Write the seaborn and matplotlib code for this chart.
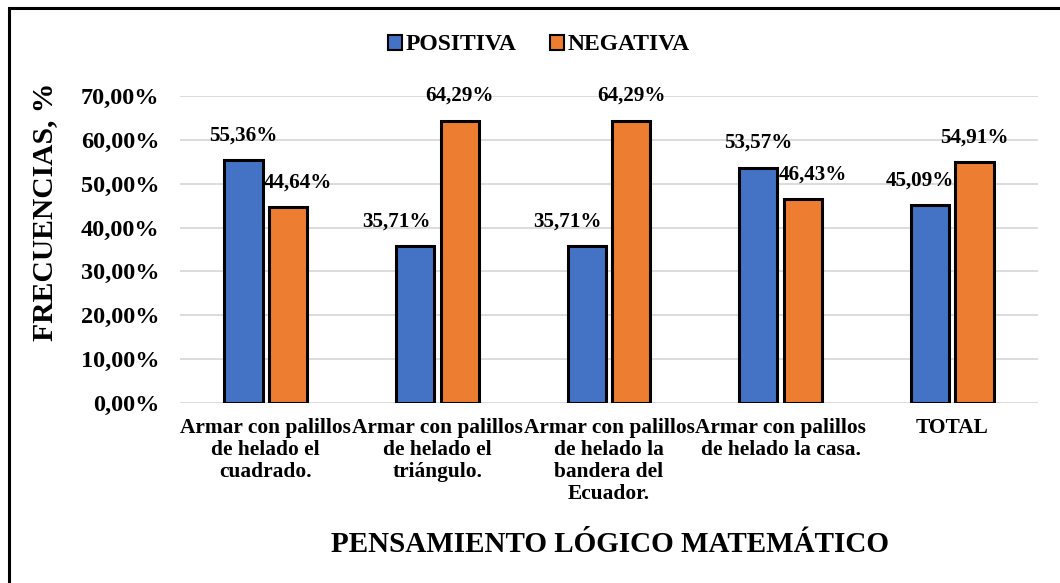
import pandas as pd
import matplotlib.pyplot as plt
import seaborn as sns
from matplotlib.patches import Rectangle
from matplotlib.ticker import FuncFormatter

categories = [
    "Armar con palillos\nde helado el\ncuadrado.",
    "Armar con palillos\nde helado el\ntriángulo.",
    "Armar con palillos\nde helado la\nbandera del\nEcuador.",
    "Armar con palillos\nde helado la casa.",
    "TOTAL",
]
positiva = [55.36, 35.71, 35.71, 53.57, 45.09]
negativa = [44.64, 64.29, 64.29, 46.43, 54.91]
series_names = ["POSITIVA", "NEGATIVA"]
colors = ["#4472C4", "#ED7D31"]

# label nudges (pixels) to mimic the hand-placed labels of the original
label_dx = {"POSITIVA": [0, -19, -19, 0, -10], "NEGATIVA": [10, 0, 0, 10, 0]}

df = pd.DataFrame({
    "cat": categories * 2,
    "serie": [series_names[0]] * 5 + [series_names[1]] * 5,
    "valor": positiva + negativa,
})

sns.set_style("white")
plt.rcParams["font.family"] = ["Liberation Serif", "DejaVu Serif"]
plt.rcParams["font.weight"] = "bold"
plt.rcParams["text.color"] = "black"
plt.rcParams["xtick.color"] = "black"
plt.rcParams["ytick.color"] = "black"

fig = plt.figure(figsize=(10.6, 5.83), dpi=100)
ax = fig.add_axes([180 / 1060, 1 - 403 / 583, (1038 - 180) / 1060, (403 - 96) / 583])

sns.barplot(data=df, x="cat", y="valor", hue="serie", palette=colors,
            saturation=1, width=0.52, gap=0.14, edgecolor="black", linewidth=2.2,
            ax=ax, legend=True, zorder=3)

ax.set_ylim(0, 70)
ax.set_yticks(range(0, 71, 10))
ax.yaxis.set_major_formatter(FuncFormatter(lambda v, p: f"{v:.2f}%".replace(".", ",")))
ax.grid(axis="y", color="#D9D9D9", linewidth=1.3, zorder=0)
for s in ax.spines.values():
    s.set_visible(False)
ax.set_xticks(range(len(categories)))
ax.set_xticklabels(categories, linespacing=1.12, fontweight="bold")
ax.tick_params(axis="y", length=0, pad=15, labelsize=17.5)
ax.tick_params(axis="x", length=0, pad=11, labelsize=15.4)
for t in ax.get_yticklabels():
    t.set_fontweight("bold")
ax.set_xlabel("")
ax.set_ylabel("")

for cont, name in zip(ax.containers, series_names):
    for bar, dx in zip(cont, label_dx[name]):
        h = bar.get_height()
        ax.annotate(f"{h:.2f}%".replace(".", ","),
                    (bar.get_x() + bar.get_width() / 2, h),
                    xytext=(dx, 15), textcoords="offset pixels",
                    ha="center", va="bottom", fontsize=15.2, fontweight="bold")

leg = ax.legend(loc="center", bbox_to_anchor=(539 / 1060, 1 - 45 / 583),
                bbox_transform=fig.transFigure, ncol=2, frameon=False,
                prop={"size": 17, "weight": "bold"}, handlelength=0.6,
                handleheight=0.6, handletextpad=0.15, columnspacing=1.4)
for h in leg.legend_handles:
    h.set_edgecolor("black")
    h.set_linewidth(1.5)

fig.text(45 / 1060, 1 - 212 / 583, "FRECUENCIAS, %", rotation=90,
         ha="center", va="center", fontsize=21.3, fontweight="bold")
fig.text(610 / 1060, 1 - 544 / 583, "PENSAMIENTO LÓGICO MATEMÁTICO",
         ha="center", va="center", fontsize=21, fontweight="bold")

fig.add_artist(Rectangle((9 / 1060, -0.05), 1.1, 1 - 8 / 583 + 0.05,
                         transform=fig.transFigure, fill=False,
                         edgecolor="black", linewidth=2.2))

fig.savefig("out.png", dpi=100)
